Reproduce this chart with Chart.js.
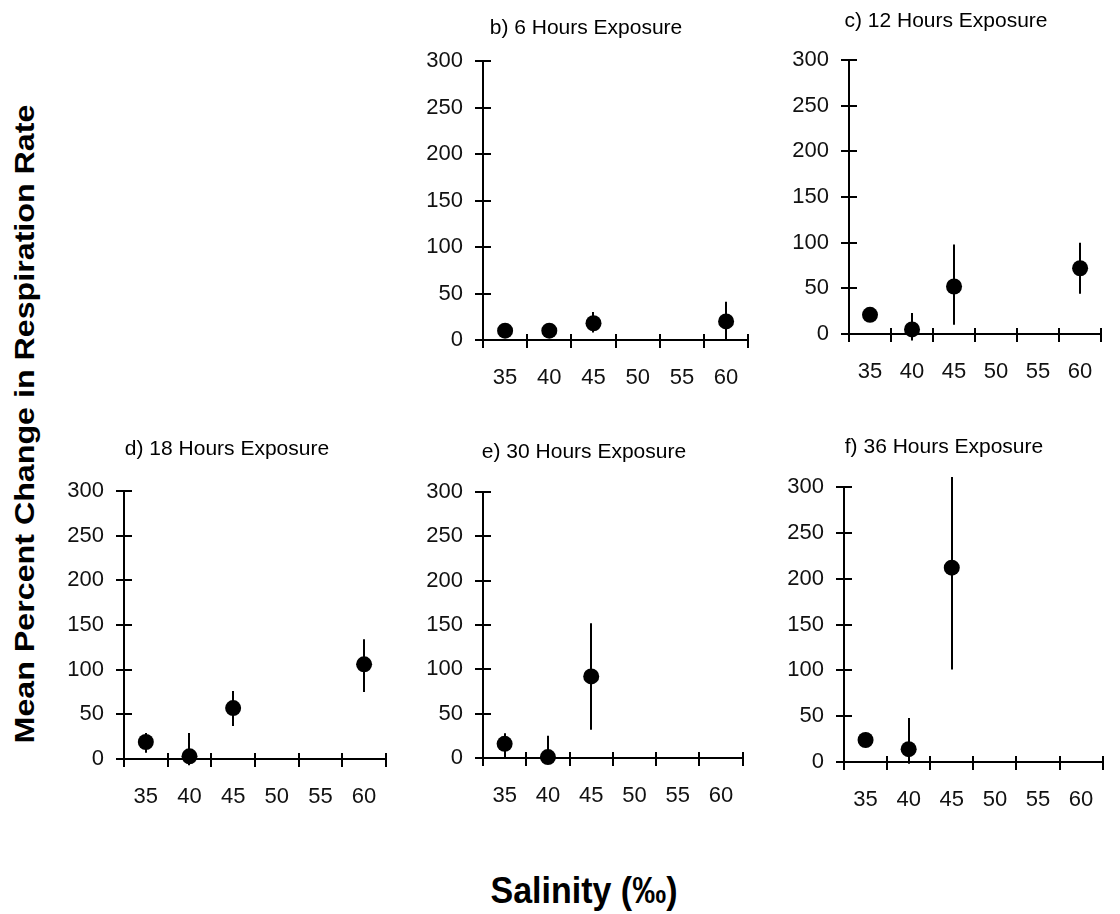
<!DOCTYPE html>
<html>
<head>
<meta charset="utf-8">
<script src="https://cdn.jsdelivr.net/npm/chart.js@4.4.1/dist/chart.umd.min.js"></script>
<style>
  html, body { margin: 0; padding: 0; background: #fff; }
  body { width: 1120px; height: 914px; position: relative; overflow: hidden; }
  canvas { position: absolute; }
  .axis-title {
    position: absolute;
    font-family: 'Liberation Sans', Arial, sans-serif;
    font-weight: bold;
    color: #000;
    white-space: nowrap;
  }
  #ytitle { left: 25px; top: 424px; font-size: 28px; line-height: 32px;
            transform: translate(-50%, -50%) rotate(-90deg) scaleX(1.15); }
  #xtitle { left: 584px; top: 890px; font-size: 34px; line-height: 38px;
            transform: translate(-50%, -50%) scaleY(1.1); }
</style>
</head>
<body>
<div id="ytitle" class="axis-title">Mean Percent Change in Respiration Rate</div>
<div id="xtitle" class="axis-title">Salinity (‰)</div>
<script>
// Salinity categories shared by every panel
const salinity = ['35', '40', '45', '50', '55', '60'];
const respMin = 0, respMax = 300, respStep = 50;

const panelTitles = [
  'b) 6 Hours Exposure',
  'c) 12 Hours Exposure',
  'd) 18 Hours Exposure',
  'e) 30 Hours Exposure',
  'f) 36 Hours Exposure'
];

// Mean % change and error-bar limits per exposure time
const mean6h  = [10, 10, 18, null, null, 20];
const low6h   = [4, 4, 8, null, null, 0];
const high6h  = [16, 16, 30, null, null, 41];

const mean12h = [21, 5, 52, null, null, 72];
const low12h  = [14, -7, 10, null, null, 44];
const high12h = [28, 23, 98, null, null, 100];

const mean18h = [19, 3, 57, null, null, 106];
const low18h  = [7, -7, 37, null, null, 75];
const high18h = [29, 29, 76, null, null, 134];

const mean30h = [16, 1, 92, null, null, null];
const low30h  = [0, -4, 32, null, null, null];
const high30h = [28, 25, 152, null, null, null];

const mean36h = [24, 14, 212, null, null, null];
const low36h  = [16, -2, 101, null, null, null];
const high36h = [32, 48, 311, null, null, null];

const panelMeans = [mean6h, mean12h, mean18h, mean30h, mean36h];
const panelLows  = [low6h, low12h, low18h, low30h, low36h];
const panelHighs = [high6h, high12h, high18h, high30h, high36h];

// Page placement of each small chart (canvas origin and plot frame)
const panelBoxes = [
  { canvasLeft: 412, canvasTop: 0,   plotLeft: 483, plotRight: 760,  plotTop: 61,  plotBottom: 340, titleY: 28 },
  { canvasLeft: 778, canvasTop: 0,   plotLeft: 849, plotRight: 1114, plotTop: 60,  plotBottom: 334, titleY: 21 },
  { canvasLeft: 56,  canvasTop: 400, plotLeft: 124, plotRight: 398,  plotTop: 491, plotBottom: 759, titleY: 449 },
  { canvasLeft: 413, canvasTop: 400, plotLeft: 483, plotRight: 755,  plotTop: 492, plotBottom: 758, titleY: 452 },
  { canvasLeft: 773, canvasTop: 400, plotLeft: 844, plotRight: 1115, plotTop: 487, plotBottom: 762, titleY: 447 }
];

const INK = '#000';
const TICK_FONT = { family: "'Liberation Sans', Arial, sans-serif", size: 22, weight: 'normal' };
const TITLE_LINE = 22;

// Vertical error bars, drawn from the dataset's low/high arrays through the y scale
const errorBars = {
  id: 'errorBars',
  beforeDatasetsDraw(chart) {
    const ctx = chart.ctx;
    const yScale = chart.scales.y;
    ctx.save();
    ctx.strokeStyle = INK;
    ctx.lineWidth = 2;
    chart.data.datasets.forEach((ds, di) => {
      const meta = chart.getDatasetMeta(di);
      ds.errLow.forEach((lo, i) => {
        const hi = ds.errHigh[i];
        if (lo == null || hi == null) return;
        const px = Math.round(meta.data[i].x);
        ctx.beginPath();
        ctx.moveTo(px, yScale.getPixelForValue(hi));
        ctx.lineTo(px, yScale.getPixelForValue(lo));
        ctx.stroke();
      });
    });
    ctx.restore();
  }
};

// Tick marks that cross the axis lines
const crossTicks = {
  id: 'crossTicks',
  afterDraw(chart) {
    const ctx = chart.ctx;
    const { x, y } = chart.scales;
    ctx.save();
    ctx.strokeStyle = INK;
    ctx.lineWidth = 2;
    ctx.beginPath();
    y.ticks.forEach((t, i) => {
      const py = Math.round(y.getPixelForTick(i));
      ctx.moveTo(y.right - 8, py);
      ctx.lineTo(y.right + 8, py);
    });
    const n = x.ticks.length;
    const step = (x.right - x.left) / n;
    for (let k = 0; k <= n; k++) {
      const px = Math.round(x.left + k * step);
      ctx.moveTo(px, x.top - 6);
      ctx.lineTo(px, x.top + 8);
    }
    ctx.stroke();
    ctx.restore();
  }
};

panelTitles.forEach((title, p) => {
  const box = panelBoxes[p];
  const width = box.plotRight + 4 - box.canvasLeft;
  const height = box.plotBottom - box.canvasTop + 60;
  const padTop = box.titleY - box.canvasTop - TITLE_LINE / 2;
  const padBottom = box.plotTop - box.canvasTop - padTop - TITLE_LINE;

  const canvas = document.createElement('canvas');
  canvas.width = width;
  canvas.height = height;
  canvas.style.left = box.canvasLeft + 'px';
  canvas.style.top = box.canvasTop + 'px';
  canvas.style.width = width + 'px';
  canvas.style.height = height + 'px';
  document.body.appendChild(canvas);

  new Chart(canvas, {
    type: 'line',
    data: {
      labels: salinity,
      datasets: [{
        data: panelMeans[p],
        errLow: panelLows[p],
        errHigh: panelHighs[p],
        showLine: false,
        clip: false,
        pointStyle: 'circle',
        pointRadius: 8,
        pointBackgroundColor: INK,
        pointBorderColor: INK,
        pointBorderWidth: 0
      }]
    },
    options: {
      responsive: false,
      animation: false,
      devicePixelRatio: 1,
      layout: { padding: { left: 0, right: 4, top: 0, bottom: 0 } },
      plugins: {
        legend: { display: false },
        tooltip: { enabled: false },
        title: {
          display: true,
          text: title,
          color: INK,
          font: { family: "'Liberation Sans', Arial, sans-serif", size: 21, weight: 'normal', lineHeight: TITLE_LINE + 'px' },
          padding: { top: padTop, bottom: padBottom }
        }
      },
      scales: {
        x: {
          type: 'category',
          offset: true,
          grid: { display: false, drawTicks: false },
          border: { display: true, color: INK, width: 2 },
          ticks: { color: '#111', font: TICK_FONT, padding: 25, maxRotation: 0, autoSkip: false },
          afterFit(scale) { scale.height = 60; }
        },
        y: {
          min: respMin,
          max: respMax,
          grid: { display: false, drawTicks: false },
          border: { display: true, color: INK, width: 2 },
          ticks: { stepSize: respStep, color: '#111', font: TICK_FONT, padding: 20 },
          afterFit(scale) { scale.width = box.plotLeft - box.canvasLeft; }
        }
      }
    },
    plugins: [errorBars, crossTicks]
  });
});
</script>
</body>
</html>
